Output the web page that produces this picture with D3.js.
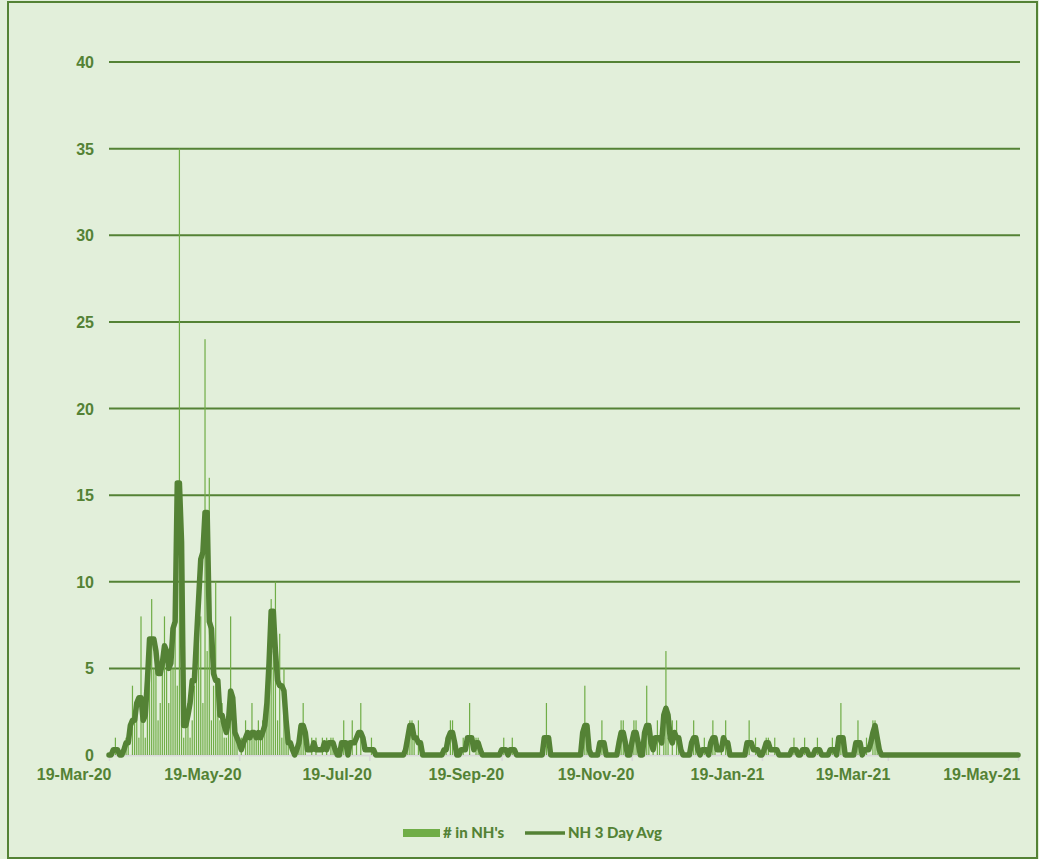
<!DOCTYPE html>
<html>
<head>
<meta charset="utf-8">
<script src="https://cdn.jsdelivr.net/npm/d3@7"></script>
<style>
  body { margin: 0; background: #e2efda; }
  svg { display: block; font-family: Lato, "Open Sans", sans-serif; }
</style>
</head>
<body>
<div id="wrapper"></div>
<script>
// first day of the series, one value per day after it
var startDate = new Date(2020, 2, 19);

// # in NH's (daily count)
var nhCounts = [
  0,0,0,1,0,0,0,0,1,1,  0,4,2,3,1,8,2,1,3,6,
  9,5,6,2,3,5,8,6,3,7,  5,8,4,35,2,1,2,3,1,2,
  4,6,11,8,3,24,6,16,2,4,  10,3,2,3,1,1,2,8,2,1,
  1,0,1,0,2,1,1,3,1,1,  2,1,2,2,2,5,9,6,10,2,
  7,1,5,1,1,0,0,0,0,1,  1,3,1,0,0,1,0,1,0,0,
  1,0,1,0,1,1,0,0,0,0,  2,0,0,0,2,0,1,0,3,0,
  0,0,0,1,0,0,0,0,0,0,  0,0,0,0,0,0,0,0,0,0,
  1,2,2,1,0,2,0,0,0,0,  0,0,0,0,0,0,0,0,1,0,
  2,2,0,0,0,0,1,0,0,3,  0,0,1,1,0,0,0,0,0,0,
  0,0,0,0,0,1,0,0,0,1,  0,0,0,0,0,0,0,0,0,0,
  0,0,0,0,0,3,0,0,0,0,  0,0,0,0,0,0,0,0,0,0,
  0,0,0,4,1,0,0,0,0,0,  0,2,0,0,0,0,0,0,0,0,
  2,2,0,0,0,0,2,2,0,0,  0,0,4,1,0,1,0,2,1,0,
  1,6,1,0,2,0,2,1,0,0,  0,0,0,0,2,1,0,0,0,1,
  0,0,0,2,1,0,0,1,0,2,  0,0,0,0,0,0,0,0,0,0,
  2,0,0,1,0,0,0,0,1,1,  0,0,1,0,0,0,0,0,0,0,
  0,1,0,0,0,0,1,0,0,0,  0,0,1,0,0,0,0,0,0,1,
  0,0,0,3,0,0,0,0,0,0,  0,2,0,0,0,1,0,0,2,2,
  1,0,0,0,0,0,0,0,0,0,  0,0,0,0,0,0,0,0,0,0,
  0,0,0,0,0,0,0,0,0,0,  0,0,0,0,0,0,0,0,0,0,
  0,0,0,0,0,0,0,0,0,0,  0,0,0,0,0,0,0,0,0,0,
  0,0,0,0,0,0,0
];

// NH 3 Day Avg
var nhAvg = [
  0,0,0.3,0.3,0.3,0,0,0.3,0.7,0.7,  1.7,2,2,3,3.3,3.3,2,2.3,4.3,6.7,
  6.7,6.7,6,4.7,4.7,5.3,6.3,6,5,5.3,  7.3,7.7,15.7,15.7,12.3,1.7,1.7,2.3,3,4.3,
  4.3,6.7,9,11.3,11.7,14,14,7.7,7.3,4.7,  4.3,4.3,2.3,2.3,1.7,1.3,2,3.7,3.3,1.3,
  1,0.7,0.3,0.7,1,1.3,1,1.3,1.3,1,  1.3,1,1.3,1.7,3,5.3,8.3,8.3,6,4.3,
  4,4,3.7,2,0.7,0.7,0.3,0,0.3,0.7,  1.7,1.7,1.3,0.3,0.3,0.3,0.7,0.3,0.3,0.3,
  0.3,0.7,0.3,0.7,0.7,0.7,0.3,0,0,0.7,  0.7,0.7,0,0.7,0.7,0.7,1,1.3,1.3,1,
  0.3,0.3,0.3,0.3,0.3,0,0,0,0,0,  0,0,0,0,0,0,0,0,0,0.3,
  1,1.7,1.7,1,1,0.7,0.7,0,0,0,  0,0,0,0,0,0,0,0.3,0.3,1,
  1.3,1.3,0.7,0,0,0.3,0.3,0.3,1,1,  1,0.3,0.7,0.7,0.3,0,0,0,0,0,
  0,0,0,0,0.3,0.3,0.3,0,0.3,0.3,  0.3,0,0,0,0,0,0,0,0,0,
  0,0,0,0,1,1,1,0,0,0,  0,0,0,0,0,0,0,0,0,0,
  0,0,1.3,1.7,1.7,0.3,0,0,0,0,  0.7,0.7,0.7,0,0,0,0,0,0,0.7,
  1.3,1.3,0.7,0,0,0.7,1.3,1.3,0.7,0,  0,1.3,1.7,1.7,0.7,0.3,1,1,1,0.7,
  2.3,2.7,2.3,1,0.7,1.3,1,1,0.3,0,  0,0,0,0.7,1,1,0.3,0,0.3,0.3,
  0.3,0,0.7,1,1,0.3,0.3,0.3,1,0.7,  0.7,0,0,0,0,0,0,0,0,0.7,
  0.7,0.7,0.3,0.3,0.3,0,0,0.3,0.7,0.7,  0.3,0.3,0.3,0.3,0,0,0,0,0,0,
  0.3,0.3,0.3,0,0,0.3,0.3,0.3,0,0,  0,0.3,0.3,0.3,0,0,0,0,0.3,0.3,
  0.3,0,1,1,1,0,0,0,0,0,  0.7,0.7,0.7,0,0.3,0.3,0.3,0.7,1.3,1.7,
  1,0.3,0,0,0,0,0,0,0,0,  0,0,0,0,0,0,0,0,0,0,
  0,0,0,0,0,0,0,0,0,0,  0,0,0,0,0,0,0,0,0,0,
  0,0,0,0,0,0,0,0,0,0,  0,0,0,0,0,0,0,0,0,0,
  0,0,0,0,0,0,0
];

var xTickDates = [
  new Date(2020, 2, 19), new Date(2020, 4, 19), new Date(2020, 6, 19), new Date(2020, 8, 19),
  new Date(2020, 10, 19), new Date(2021, 0, 19), new Date(2021, 2, 19), new Date(2021, 4, 19)
];
var yTicks = [0, 5, 10, 15, 20, 25, 30, 35, 40];

var W = 1039, H = 859;
var margin = {top: 62, right: 21, bottom: 104, left: 109};
var width = 909;
var height = H - margin.top - margin.bottom;

var dark = "#548235";
var barColor = "#70ad47";

var days = nhCounts.map(function(v, i) {
  return {date: d3.timeDay.offset(startDate, i), count: v, avg: nhAvg[i]};
});

var svg = d3.select("#wrapper")
  .append("svg")
  .attr("width", W)
  .attr("height", H);

// chart area border
svg.append("rect")
  .attr("x", 8).attr("y", 2)
  .attr("width", W - 10).attr("height", H - 3)
  .attr("fill", "#e2efda")
  .attr("stroke", dark)
  .attr("stroke-width", 2);

var g = svg.append("g")
  .attr("transform", "translate(" + margin.left + "," + margin.top + ")");

var x = d3.scaleTime()
  .domain([xTickDates[0], xTickDates[xTickDates.length - 1]])
  .range([0, width]);

var y = d3.scaleLinear()
  .domain([0, 40])
  .range([height, 0]);

// horizontal gridlines
g.selectAll("line.grid")
  .data(yTicks.filter(function(d) { return d > 0; }))
  .enter()
  .append("line")
  .attr("class", "grid")
  .attr("x1", 0)
  .attr("x2", width + 2)
  .attr("y1", function(d) { return y(d); })
  .attr("y2", function(d) { return y(d); })
  .attr("stroke", dark)
  .attr("stroke-width", 2);

// y axis labels (no line)
var yAxis = g.append("g")
  .call(d3.axisLeft(y).tickValues(yTicks).tickSize(0).tickPadding(15));
yAxis.select(".domain").remove();
yAxis.selectAll("text")
  .attr("fill", dark)
  .style("font-size", "16px")
  .style("font-weight", "900")
  .attr("dy", "0.35em");

// x axis
var xAxis = g.append("g")
  .attr("transform", "translate(0," + height + ")")
  .call(d3.axisBottom(x)
    .tickValues(xTickDates)
    .tickFormat(d3.timeFormat("%d-%b-%y"))
    .tickSize(6)
    .tickSizeOuter(0));
xAxis.select(".domain").attr("stroke", "#d9d9d9").attr("stroke-width", 2);
xAxis.selectAll(".tick line").attr("stroke", "#d9d9d9").attr("stroke-width", 1.5);
xAxis.selectAll("text")
  .attr("fill", dark)
  .attr("text-anchor", "end")
  .attr("x", 2)
  .attr("y", 19)
  .attr("dy", "0.35em")
  .style("font-size", "16px")
  .style("font-weight", "900");

// daily bars
g.selectAll("rect.bar")
  .data(days.filter(function(d) { return d.count > 0; }))
  .enter()
  .append("rect")
  .attr("class", "bar")
  .attr("x", function(d) { return x(d.date) - 0.6; })
  .attr("y", function(d) { return y(d.count); })
  .attr("width", 1.2)
  .attr("height", function(d) { return height - y(d.count); })
  .attr("fill", barColor);

// 3 day average line
var line = d3.line()
  .x(function(d) { return x(d.date); })
  .y(function(d) { return y(d.avg); });

g.append("path")
  .datum(days)
  .attr("d", line)
  .attr("fill", "none")
  .attr("stroke", dark)
  .attr("stroke-width", 5.5)
  .attr("stroke-linejoin", "round")
  .attr("stroke-linecap", "round");

// legend
var legend = svg.append("g")
  .attr("transform", "translate(403,833)");
legend.append("rect")
  .attr("x", 0).attr("y", -4)
  .attr("width", 37).attr("height", 8)
  .attr("fill", barColor);
legend.append("text")
  .attr("x", 40).attr("y", 0).attr("dy", "0.35em")
  .attr("fill", dark)
  .style("font-size", "15px")
  .style("font-weight", "900")
  .text("# in NH's");
legend.append("line")
  .attr("x1", 122).attr("x2", 162)
  .attr("y1", 0).attr("y2", 0)
  .attr("stroke", dark)
  .attr("stroke-width", 3.5);
legend.append("text")
  .attr("x", 165).attr("y", 0).attr("dy", "0.35em")
  .attr("fill", dark)
  .style("font-size", "15px")
  .style("font-weight", "900")
  .text("NH 3 Day Avg");
</script>
</body>
</html>
